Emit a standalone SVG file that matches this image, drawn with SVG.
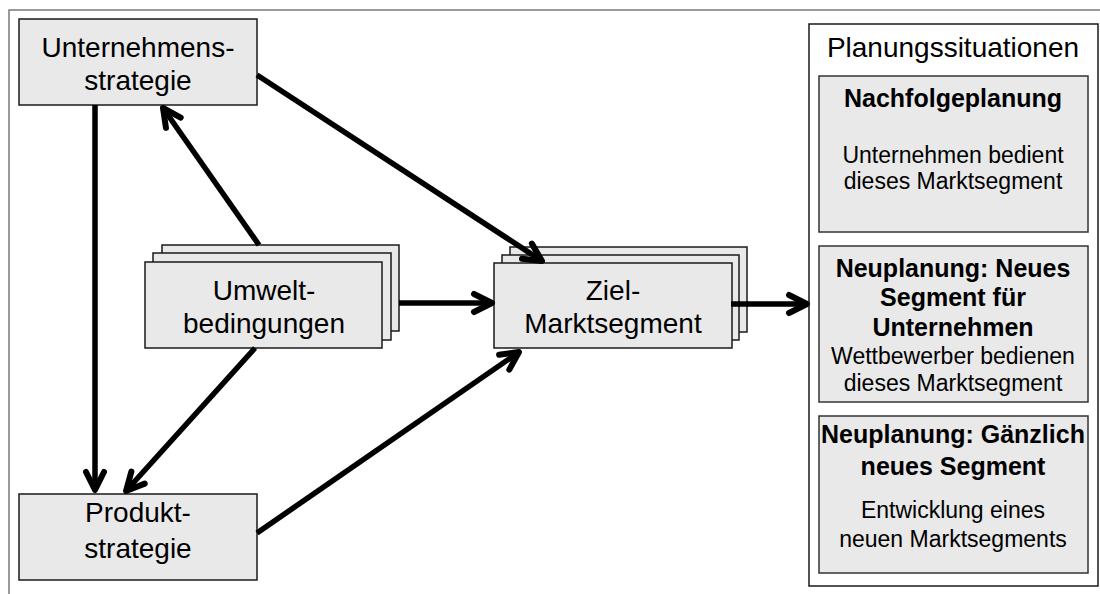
<svg xmlns="http://www.w3.org/2000/svg" width="1100" height="594" viewBox="0 0 1100 594" font-family="Liberation Sans, Arimo, Arial, Helvetica, sans-serif">
  <style>
    .box { fill: #e9e9e9; stroke: #1a1a1a; stroke-width: 1.5; }
    .panel { fill: #ffffff; stroke: #1a1a1a; stroke-width: 1.5; }
    .sub { fill: #e9e9e9; stroke: #333333; stroke-width: 1.5; }
    text { font-family: 'Liberation Sans', Arimo, Arial, Helvetica, sans-serif; fill: #000; text-anchor: middle; }
    .node { font-size: 28px; }
    .head { font-size: 25px; font-weight: bold; }
    .body { font-size: 23px; }
    .arrow { stroke: #000; stroke-width: 5.5; fill: none; marker-end: url(#chev); }
  </style>
  <defs>
    <marker id="chev" markerUnits="userSpaceOnUse" viewBox="-24 -13 28 26" refX="0" refY="0" markerWidth="28" markerHeight="26" orient="auto">
      <path d="M -18 -9 L 0 0 L -18 9" fill="none" stroke="#000" stroke-width="6" stroke-linecap="round" stroke-linejoin="round"/>
    </marker>
  </defs>

  <!-- outer frame -->
  <rect x="9" y="10" width="1100" height="600" fill="#fff" stroke="#7a7a7a" stroke-width="1.5"/>

  <g id="unternehmensstrategie">
    <rect class="box" x="19" y="19" width="238" height="86"/>
    <text class="node" x="138" y="57">Unternehmens-</text>
    <text class="node" x="138" y="90">strategie</text>
  </g>

  <g id="produktstrategie">
    <rect class="box" x="19" y="494" width="238" height="86"/>
    <text class="node" x="138" y="522">Produkt-</text>
    <text class="node" x="138" y="558">strategie</text>
  </g>

  <g id="umweltbedingungen">
    <rect class="box" x="162" y="245" width="237" height="86"/>
    <rect class="box" x="153" y="253" width="238" height="87"/>
    <rect class="box" x="145" y="262" width="237" height="86"/>
    <text class="node" x="264" y="300">Umwelt-</text>
    <text class="node" x="264" y="333">bedingungen</text>
  </g>

  <g id="ziel-marktsegment">
    <rect class="box" x="510" y="247" width="237" height="85"/>
    <rect class="box" x="502" y="255" width="237" height="85"/>
    <rect class="box" x="494" y="263" width="238" height="85"/>
    <text class="node" x="613" y="300">Ziel-</text>
    <text class="node" x="613" y="333">Marktsegment</text>
  </g>

  <g id="planungssituationen">
    <rect class="panel" x="809" y="24" width="289" height="562"/>
    <text class="node" x="953" y="57">Planungssituationen</text>
  </g>

  <g id="nachfolgeplanung">
    <rect class="sub" x="819" y="76" width="269" height="156"/>
    <text class="head" x="953" y="107">Nachfolgeplanung</text>
    <text class="body" x="953" y="163">Unternehmen bedient</text>
    <text class="body" x="953" y="189">dieses Marktsegment</text>
  </g>

  <g id="neuplanung-neues-segment">
    <rect class="sub" x="819" y="246" width="269" height="156"/>
    <text class="head" x="953" y="277">Neuplanung: Neues</text>
    <text class="head" x="953" y="306">Segment für</text>
    <text class="head" x="953" y="336">Unternehmen</text>
    <text class="body" x="953" y="364">Wettbewerber bedienen</text>
    <text class="body" x="953" y="391">dieses Marktsegment</text>
  </g>

  <g id="neuplanung-gaenzlich-neues-segment">
    <rect class="sub" x="819" y="416" width="269" height="157"/>
    <text class="head" x="953" y="443">Neuplanung: Gänzlich</text>
    <text class="head" x="953" y="475">neues Segment</text>
    <text class="body" x="953" y="518">Entwicklung eines</text>
    <text class="body" x="953" y="547">neuen Marktsegments</text>
  </g>

  <g id="connectors">
    <line class="arrow" x1="95" y1="105" x2="95" y2="490"/>
    <line class="arrow" x1="257" y1="75" x2="542" y2="261"/>
    <line class="arrow" x1="259" y1="245" x2="163" y2="108"/>
    <line class="arrow" x1="255" y1="348" x2="126" y2="491"/>
    <line class="arrow" x1="399" y1="303" x2="492" y2="303"/>
    <line class="arrow" x1="257" y1="533" x2="519" y2="352"/>
    <line class="arrow" x1="731" y1="304" x2="807" y2="304"/>
  </g>
</svg>
